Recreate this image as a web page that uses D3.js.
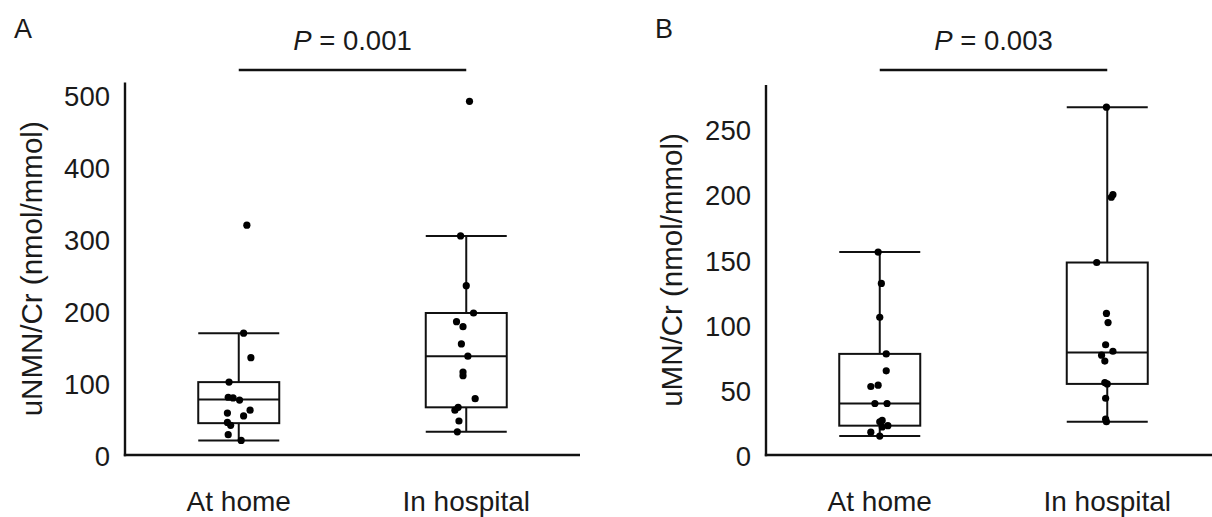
<!DOCTYPE html>
<html>
<head>
<meta charset="utf-8">
<script src="https://cdn.jsdelivr.net/npm/d3@7"></script>
<style>
  body { margin: 0; background: #fff; }
  text { font-family: "Liberation Sans", Arial, Helvetica, sans-serif; fill: #1a1a1a; }
</style>
</head>
<body>
<div id="content"></div>
<script>
// categories
var groups = ["At home", "In hospital"];

// panel A: uNMN/Cr
var aHome = [322, 172, 138, 104, 83, 82, 79, 65, 61, 57, 48, 44, 31, 23];
var aHosp = [494, 307, 238, 200, 188, 181, 157, 140, 118, 113, 81, 69, 65, 50, 35];
// jitter as fraction of box width
var aHomeJitter = [0.10, 0.06, 0.15, -0.12, -0.13, -0.07, 0.01, 0.14, -0.14, 0.06, -0.14, -0.10, -0.13, 0.03];
var aHospJitter = [0.04, -0.07, 0, 0.09, -0.12, -0.04, -0.06, 0.02, -0.04, -0.04, 0.11, -0.10, -0.14, -0.09, -0.11];
// box stats: [low whisker, q1, median, q3, high whisker]
var aHomeBox = [23, 47, 80, 104, 172];
var aHospBox = [35, 69, 140, 200, 307];
var aTicks = [0, 100, 200, 300, 400, 500];

// panel B: uMN/Cr
var bHome = [157, 133, 107, 79, 66, 55, 54, 41, 41, 28, 27, 24, 23, 19, 16];
var bHosp = [268, 199, 201, 149, 110, 103, 86, 81, 78, 73.5, 57, 56, 45, 29, 27];
var bHomeJitter = [-0.02, 0.02, 0, 0.08, 0.08, -0.02, -0.11, -0.06, 0.09, 0.03, 0, 0.10, 0.03, -0.11, 0];
var bHospJitter = [-0.01, 0.05, 0.07, -0.13, -0.01, 0.01, -0.02, 0.07, -0.07, -0.03, -0.03, 0, -0.02, -0.02, -0.01];
var bHomeBox = [16, 24, 41, 79, 157];
var bHospBox = [27, 56, 80, 149, 268];
var bTicks = [0, 50, 100, 150, 200, 250];

var W = 1212, H = 517;
var svg = d3.select("#content").append("svg").attr("width", W).attr("height", H);

function panel(opts) {
  var g = svg.append("g").attr("transform", "translate(" + opts.left + ",0)");
  var plotW = 455, y0 = 457, axisY = 455;

  var x = d3.scalePoint().domain(groups).range([0, plotW]).padding(0.5);
  var y = d3.scaleLinear().domain([0, opts.max]).range([y0, opts.top]);
  var boxW = 81;

  // axis lines
  g.append("line").attr("x1", 0).attr("x2", 0).attr("y1", y(opts.max)).attr("y2", axisY + 1.2)
    .attr("stroke", "#111").attr("stroke-width", 2.4);
  g.append("line").attr("x1", -1.2).attr("x2", plotW).attr("y1", axisY).attr("y2", axisY)
    .attr("stroke", "#111").attr("stroke-width", 2.4);

  // tick labels
  var yAxis = d3.axisLeft(y).tickValues(opts.ticks).tickSize(0).tickPadding(15);
  var ax = g.append("g").call(yAxis);
  ax.select(".domain").remove();
  ax.selectAll("text").style("font-size", "27.5px").style("font-family", null).attr("fill", "#1a1a1a");

  // y title
  g.append("text")
    .attr("transform", "translate(" + (opts.titleX - opts.left) + "," + ((y(opts.max) + axisY) / 2) + ") rotate(-90)")
    .attr("text-anchor", "middle").attr("dy", "0.35em")
    .style("font-size", "29.5px").text(opts.title);

  // x labels
  g.selectAll("text.xlab").data(groups).enter().append("text").attr("class", "xlab")
    .attr("x", function(d) { return x(d); }).attr("y", 511)
    .attr("text-anchor", "middle").style("font-size", "28px")
    .text(function(d) { return d; });

  // boxes
  var boxes = [opts.homeBox, opts.hospBox];
  boxes.forEach(function(b, i) {
    var cx = x(groups[i]);
    var bg = g.append("g").attr("stroke", "#111").attr("stroke-width", 2).attr("fill", "none");
    bg.append("line").attr("x1", cx).attr("x2", cx).attr("y1", y(b[0])).attr("y2", y(b[1]));
    bg.append("line").attr("x1", cx).attr("x2", cx).attr("y1", y(b[3])).attr("y2", y(b[4]));
    bg.append("line").attr("x1", cx - boxW / 2).attr("x2", cx + boxW / 2).attr("y1", y(b[0])).attr("y2", y(b[0]));
    bg.append("line").attr("x1", cx - boxW / 2).attr("x2", cx + boxW / 2).attr("y1", y(b[4])).attr("y2", y(b[4]));
    bg.append("rect").attr("x", cx - boxW / 2).attr("width", boxW)
      .attr("y", y(b[3])).attr("height", y(b[1]) - y(b[3]));
    bg.append("line").attr("x1", cx - boxW / 2).attr("x2", cx + boxW / 2).attr("y1", y(b[2])).attr("y2", y(b[2]));
  });

  // points
  var sets = [[opts.home, opts.homeJitter], [opts.hosp, opts.hospJitter]];
  sets.forEach(function(s, i) {
    g.selectAll(null).data(s[0]).enter().append("circle")
      .attr("cx", function(d, j) { return x(groups[i]) + s[1][j] * boxW; })
      .attr("cy", function(d) { return y(d); })
      .attr("r", 3.6).attr("fill", "#000");
  });

  // significance bar
  g.append("line").attr("x1", x(groups[0])).attr("x2", x(groups[1])).attr("y1", 70).attr("y2", 70)
    .attr("stroke", "#111").attr("stroke-width", 2.4);
  var pt = g.append("text").attr("x", (x(groups[0]) + x(groups[1])) / 2).attr("y", 50)
    .attr("text-anchor", "middle").style("font-size", "27.5px");
  pt.append("tspan").style("font-style", "italic").text("P");
  pt.append("tspan").text(" = " + opts.p);

  // panel letter
  svg.append("text").attr("x", opts.letterX).attr("y", 38).style("font-size", "27px").text(opts.letter);
}

panel({ left: 125, top: 82.6, max: 520, ticks: aTicks, home: aHome, hosp: aHosp,
  homeJitter: aHomeJitter, hospJitter: aHospJitter, homeBox: aHomeBox, hospBox: aHospBox,
  title: "uNMN/Cr (nmol/mmol)", titleX: 32, p: "0.001", letter: "A", letterX: 14 });

panel({ left: 766, top: 85, max: 285, ticks: bTicks, home: bHome, hosp: bHosp,
  homeJitter: bHomeJitter, hospJitter: bHospJitter, homeBox: bHomeBox, hospBox: bHospBox,
  title: "uMN/Cr (nmol/mmol)", titleX: 672, p: "0.003", letter: "B", letterX: 655 });
</script>
</body>
</html>
